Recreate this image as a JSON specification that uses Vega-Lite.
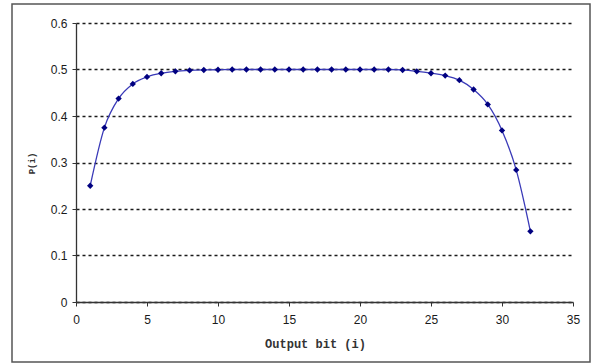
{
  "$schema": "https://vega.github.io/schema/vega-lite/v6.json",
  "autosize": {"type": "none"},
  "padding": {"left": 12, "top": 4, "right": 9, "bottom": 2},
  "width": 578,
  "height": 358,
  "background": "white",
  "config": {
    "view": {"stroke": "#555555", "strokeWidth": 1.5},
    "axis": {
      "labelFont": "Liberation Sans",
      "labelFontSize": 12,
      "labelColor": "#1a1a1a",
      "domainColor": "#333333",
      "domainWidth": 1.3,
      "tickColor": "#333333",
      "tickSize": 4,
      "titleFont": "Liberation Mono",
      "titleFontWeight": "bold",
      "titleColor": "#333333"
    }
  },
  "data": {
    "values": [
      {"i": 1, "p": 0.25},
      {"i": 2, "p": 0.375},
      {"i": 3, "p": 0.4375},
      {"i": 4, "p": 0.469},
      {"i": 5, "p": 0.484},
      {"i": 6, "p": 0.492},
      {"i": 7, "p": 0.496},
      {"i": 8, "p": 0.498},
      {"i": 9, "p": 0.499},
      {"i": 10, "p": 0.4995},
      {"i": 11, "p": 0.5},
      {"i": 12, "p": 0.5},
      {"i": 13, "p": 0.5},
      {"i": 14, "p": 0.5},
      {"i": 15, "p": 0.5},
      {"i": 16, "p": 0.5},
      {"i": 17, "p": 0.5},
      {"i": 18, "p": 0.5},
      {"i": 19, "p": 0.5},
      {"i": 20, "p": 0.5},
      {"i": 21, "p": 0.5},
      {"i": 22, "p": 0.5},
      {"i": 23, "p": 0.499},
      {"i": 24, "p": 0.496},
      {"i": 25, "p": 0.492},
      {"i": 26, "p": 0.487},
      {"i": 27, "p": 0.477},
      {"i": 28, "p": 0.457},
      {"i": 29, "p": 0.425},
      {"i": 30, "p": 0.369},
      {"i": 31, "p": 0.284},
      {"i": 32, "p": 0.152}
    ]
  },
  "encoding": {
    "x": {
      "field": "i",
      "type": "quantitative",
      "scale": {"domain": [0, 35], "range": [64, 561], "nice": false, "zero": false},
      "axis": {
        "title": "Output bit (i)",
        "titleFontSize": 12,
        "titleX": 303,
        "titleY": 41,
        "titleBaseline": "middle",
        "titleAnchor": "middle",
        "values": [0, 5, 10, 15, 20, 25, 30, 35],
        "offset": -60,
        "grid": false,
        "labelPadding": 8,
        "labelFlush": false
      }
    },
    "y": {
      "field": "p",
      "type": "quantitative",
      "scale": {"domain": [0, 0.6], "range": [298, 19], "nice": false, "zero": false},
      "axis": {
        "title": "P(i)",
        "titleFontSize": 9,
        "titleX": -45,
        "titleY": 159,
        "titleAngle": -90,
        "titleBaseline": "middle",
        "titleAnchor": "middle",
        "values": [0, 0.1, 0.2, 0.3, 0.4, 0.5, 0.6],
        "labelExpr": "datum.value == 0 ? '0' : format(datum.value, '.1f')",
        "offset": -64,
        "grid": true,
        "gridColor": "#1a1a1a",
        "gridDash": [3, 3],
        "gridWidth": 1.6,
        "labelPadding": 5,
        "labelFlush": false
      }
    }
  },
  "layer": [
    {
      "mark": {"type": "line", "interpolate": "monotone", "color": "#3a3ab8", "strokeWidth": 1.3}
    },
    {
      "mark": {"type": "point", "shape": "diamond", "filled": true, "color": "#000080", "size": 40, "opacity": 1}
    }
  ]
}
